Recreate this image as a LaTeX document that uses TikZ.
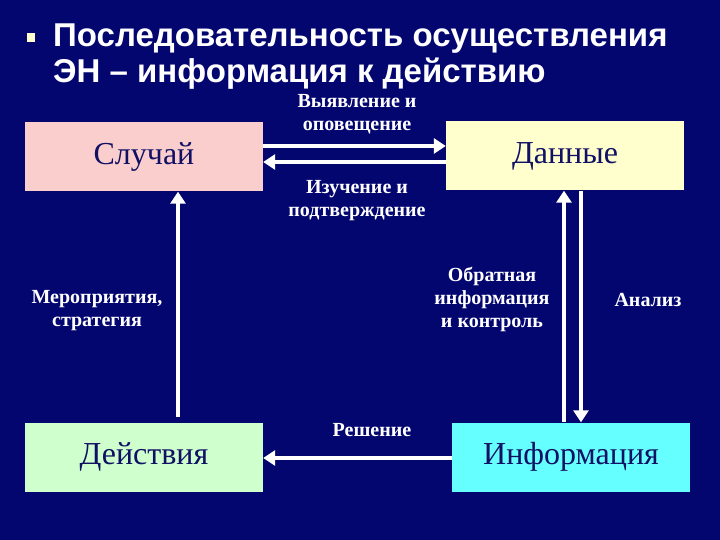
\documentclass[tikz,border=0pt]{standalone}
\usepackage{fontspec}
\setmainfont{Liberation Serif}
\newfontfamily\titlefont{Liberation Sans}
\usetikzlibrary{arrows.meta, positioning}
\definecolor{SlideBlue}{RGB}{4, 6, 112}
\definecolor{InkBlue}{RGB}{16, 16, 100}
\definecolor{CasePink}{RGB}{250, 206, 204}
\definecolor{DataYellow}{RGB}{255, 255, 206}
\definecolor{ActGreen}{RGB}{206, 255, 204}
\definecolor{InfoCyan}{RGB}{102, 255, 255}

\begin{document}
\begin{tikzpicture}[
    x=1pt, y=-1pt,
    stagebox/.style={inner sep=0pt, minimum width=238pt, minimum height=69pt, text=InkBlue, font=\fontsize{32}{36}\selectfont},
    flowlabel/.style={text=white, align=center, font=\fontsize{20}{23}\selectfont\bfseries},
    flow/.style={draw=white, line width=4.5pt, -{Triangle[width=15pt,length=12pt]}}
]
\fill[SlideBlue] (0,0) rectangle (720,540);
\useasboundingbox (0,0) rectangle (720,540);
% title
\fill[DataYellow] (27,33) rectangle (35,42);
\node[anchor=north west, inner sep=0pt, text=white, align=left, font=\titlefont\fontsize{33}{36}\selectfont\bfseries] (title) at (53,24) {Последовательность осуществления\\ЭН – информация к действию};
% stages
\node[stagebox, fill=CasePink] (case) at (144,157) {Случай};
\node[stagebox, fill=DataYellow] (data) at (565,156) {Данные};
\node[stagebox, fill=ActGreen] (act) at (144,457) {Действия};
\node[stagebox, fill=InfoCyan] (info) at (571,457) {Информация};
% connectors
\draw[flow] ([yshift=11pt]case.east) -- ([yshift=10pt]data.west);
\draw[flow] ([yshift=-6pt]data.west) -- ([yshift=-5pt]case.east);
\draw[flow, shorten <=5pt] ([xshift=34pt]act.north) -- ([xshift=34pt]case.south);
\draw[flow] ([xshift=-7pt]info.north) -- ([xshift=-7pt]info.north |- data.south);
\draw[flow] ([xshift=10pt]info.north |- data.south) -- ([xshift=10pt]info.north);
\draw[flow] ([yshift=-1pt]info.west) -- ([yshift=-1pt]act.east);
% labels
\node[flowlabel] (detect) at (357,114) {Выявление и\\оповещение};
\node[flowlabel] (study) at (357,201) {Изучение и\\подтверждение};
\node[flowlabel] (measures) at (97,311) {Мероприятия,\\стратегия};
\node[flowlabel] (feedback) at (492,299) {Обратная\\информация\\и контроль};
\node[flowlabel] (analysis) at (648,300) {Анализ};
\node[flowlabel] (decision) at (372,430) {Решение};
\end{tikzpicture}
\end{document}
